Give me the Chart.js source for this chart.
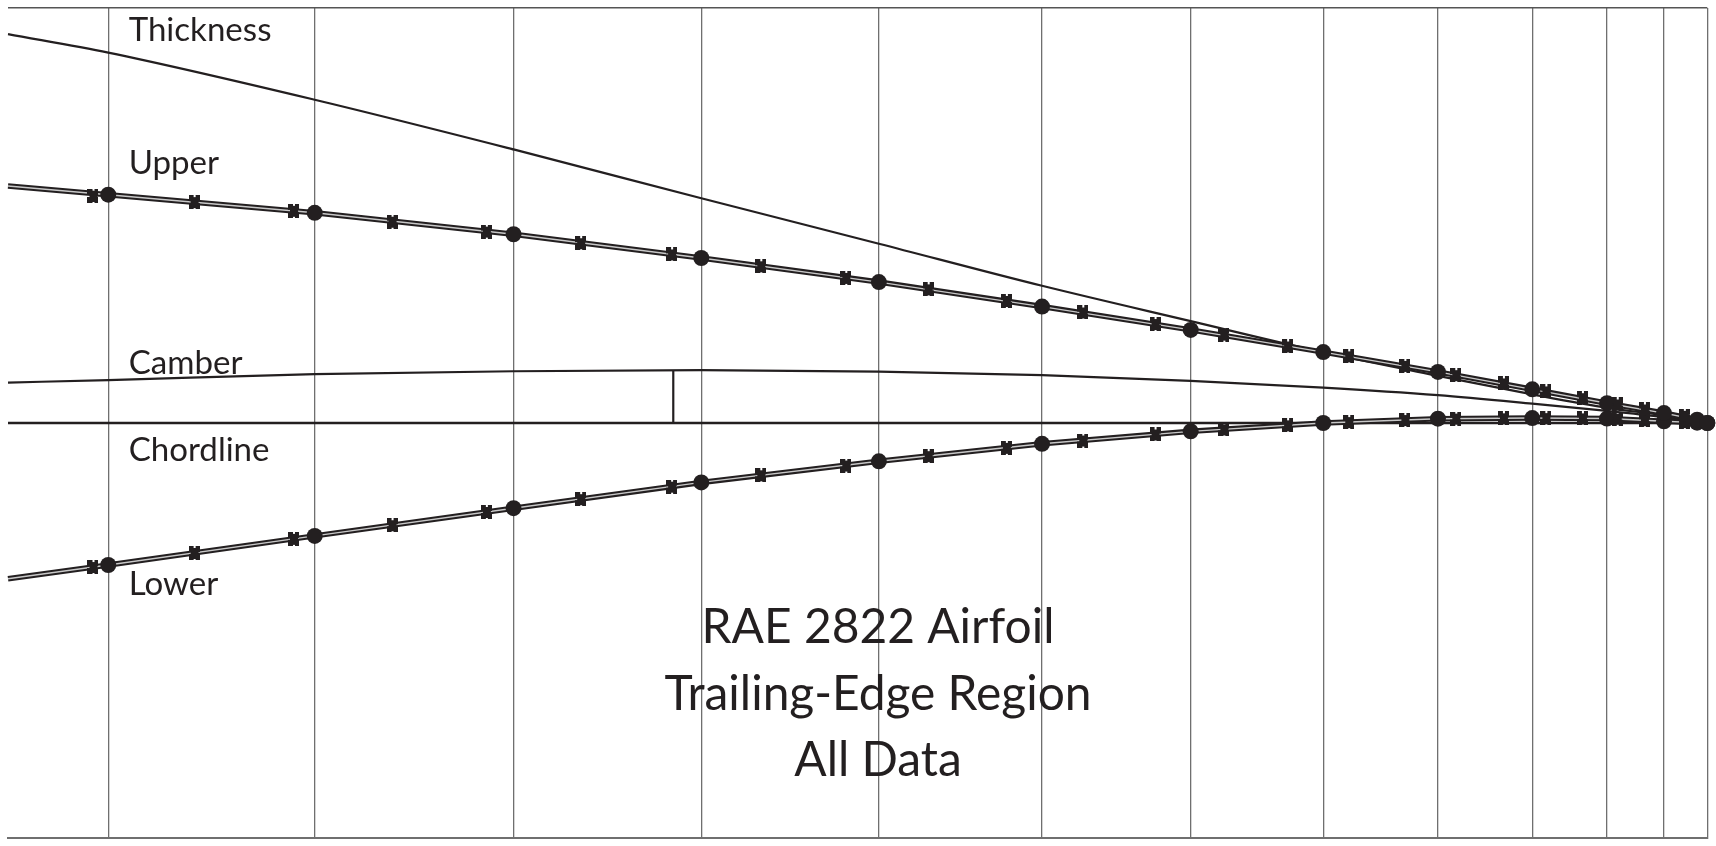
<!DOCTYPE html>
<html>
<head>
<meta charset="utf-8">
<title>RAE 2822 Airfoil - Trailing-Edge Region</title>
<script src="https://cdn.jsdelivr.net/npm/chart.js@4.4.1/dist/chart.umd.min.js"></script>
<style>
  html, body { margin: 0; padding: 0; background: #fff; overflow: hidden; }
  #wrap { width: 1716px; height: 846px; position: relative; }
</style>
</head>
<body>
<div id="wrap"><canvas id="airfoilChart"></canvas></div>
<script>
// x and y both in percent chord (trailing edge at x = 100)
const gridX = [81.18, 83.61, 85.95, 88.16, 90.25, 92.17, 93.92, 95.48, 96.83, 97.94, 98.82, 99.49, 100];

// surface values at the stations marked with filled dots
const dotX = [81.18, 83.61, 85.95, 88.16, 90.25, 92.17, 93.92, 95.48, 96.83, 97.94, 98.82, 99.49, 99.88, 100];
const upperDots = [2.712, 2.497, 2.242, 1.960, 1.674, 1.383, 1.106, 0.842, 0.607, 0.400, 0.235, 0.118, 0.039, 0];
const lowerDots = [-1.687, -1.341, -1.012, -0.706, -0.455, -0.247, -0.099, 0, 0.051, 0.059, 0.053, 0.020, 0.004, 0];
// where the surface lines leave the left edge
const edgeX = 80;
const upperEdge = 2.815;
const lowerEdge = -1.851;

// the second data set (cross markers)
const crossX = [81.00, 82.19, 83.36, 84.52, 85.63, 86.74, 87.81, 88.86, 89.86, 90.83, 91.75, 92.65,
  93.50, 94.31, 95.06, 95.78, 96.44, 97.04, 97.60, 98.10, 98.53, 98.94, 99.26, 99.73];
const upperCross = [2.697, 2.624, 2.521, 2.391, 2.274, 2.136, 2.003, 1.862, 1.724, 1.588, 1.450, 1.313,
  1.176, 1.050, 0.909, 0.792, 0.678, 0.568, 0.470, 0.375, 0.295, 0.220, 0.161, 0.086];
const lowerCross = [-1.711, -1.544, -1.376, -1.214, -1.057, -0.905, -0.756, -0.621, -0.505, -0.394, -0.295, -0.208,
  -0.136, -0.076, -0.028, 0.011, 0.035, 0.052, 0.056, 0.058, 0.055, 0.051, 0.033, 0.011];

// thickness and camber distributions
const distX = [80, 81.18, 83.61, 85.95, 88.16, 90.25, 92.17, 93.92, 95.48, 96.83, 97.94, 98.82, 99.49, 100];
const thickness = [4.62, 4.40, 3.84, 3.25, 2.67, 2.13, 1.63, 1.21, 0.84, 0.56, 0.34, 0.18, 0.09, 0];
const camber = [0.48, 0.51, 0.58, 0.615, 0.627, 0.61, 0.568, 0.50, 0.42, 0.33, 0.23, 0.144, 0.07, 0];

// chordline and max camber position
const chordX = [80, 100];
const maxCamberX = 87.83;
const maxCamber = 0.625;

const titleLines = ["RAE 2822 Airfoil", "Trailing-Edge Region", "All Data"];

const ink = "#231f20";

const pts = (xs, ys) => xs.map((v, i) => ({ x: v, y: ys[i] }));

// cross marker, a bold "#" like blob
const crossMark = document.createElement("canvas");
crossMark.width = 11;
crossMark.height = 14;
(function () {
  const c = crossMark.getContext("2d");
  c.fillStyle = ink;
  c.fillRect(0, 0, 11, 14);
  c.clearRect(4.5, 0, 2, 1.5);
  c.clearRect(4.5, 12.5, 2, 1.5);
  c.clearRect(0, 6, 1.5, 2);
  c.clearRect(9.5, 6, 1.5, 2);
})();

const plainLine = (data, width) => ({
  data: data,
  borderColor: ink,
  borderWidth: width,
  pointRadius: 0,
  fill: false,
  tension: 0,
  clip: false,
  order: 9,
});

const surfaceLine = (data, outer) => ({
  data: data,
  borderColor: outer ? ink : "#c8c8c8",
  borderWidth: outer ? 5.5 : 1.4,
  pointRadius: 0,
  fill: false,
  tension: 0,
  clip: false,
  order: outer ? 6 : 5,
});

const upperLine = [{ x: edgeX, y: upperEdge }].concat(pts(dotX, upperDots));
const lowerLine = [{ x: edgeX, y: lowerEdge }].concat(pts(dotX, lowerDots));

const dotSet = (label, data) => ({
  label: label,
  data: data,
  showLine: false,
  pointStyle: "circle",
  pointRadius: 8,
  pointBackgroundColor: ink,
  pointBorderWidth: 0,
  clip: false,
  order: 3,
});

const crossSet = (label, data) => ({
  label: label,
  data: data,
  showLine: false,
  pointStyle: crossMark,
  clip: false,
  order: 2,
});

const datasets = [
  Object.assign(plainLine(pts(distX, thickness), 2.2), { label: "Thickness", cubicInterpolationMode: "monotone" }),
  Object.assign(plainLine(pts(distX, camber), 2.2), { label: "Camber", cubicInterpolationMode: "monotone" }),
  Object.assign(plainLine(pts(chordX, [0, 0]), 2.4), { label: "Chordline" }),
  Object.assign(plainLine([{ x: maxCamberX, y: 0 }, { x: maxCamberX, y: maxCamber }], 2.2), { label: "Max camber" }),
  Object.assign(surfaceLine(upperLine, true), { label: "Upper" }),
  Object.assign(surfaceLine(upperLine, false), { label: "Upper inner" }),
  Object.assign(surfaceLine(lowerLine, true), { label: "Lower" }),
  Object.assign(surfaceLine(lowerLine, false), { label: "Lower inner" }),
  dotSet("Upper dots", pts(dotX, upperDots)),
  dotSet("Lower dots", pts(dotX, lowerDots)),
  crossSet("Upper crosses", pts(crossX, upperCross)),
  crossSet("Lower crosses", pts(crossX, lowerCross)),
];

// text placed in data coordinates
const curveLabels = [
  { text: "Thickness", x: 81.42, y: 4.54 },
  { text: "Upper", x: 81.42, y: 2.959 },
  { text: "Camber", x: 81.42, y: 0.588 },
  { text: "Chordline", x: 81.42, y: -0.452 },
  { text: "Lower", x: 81.42, y: -2.04 },
];
const titleX = 90.24;
const titleY = [-2.613, -3.411, -4.196];

const fitFont = (ctx, texts, width, family) => {
  ctx.font = "100px " + family;
  let w = 0;
  texts.forEach((t) => { w += ctx.measureText(t).width; });
  return (100 * width / w).toFixed(1) + "px " + family;
};

const textPlugin = {
  id: "airfoilText",
  afterDatasetsDraw(chart) {
    const { ctx, scales: { x, y } } = chart;
    ctx.save();
    ctx.fillStyle = ink;
    ctx.textBaseline = "alphabetic";
    ctx.textAlign = "left";
    ctx.font = fitFont(ctx, ["Thickness", "Chordline"], 141 + 143, "Lato");
    curveLabels.forEach((l) => {
      ctx.fillText(l.text, x.getPixelForValue(l.x), y.getPixelForValue(l.y));
    });
    ctx.font = fitFont(ctx, [titleLines[1], titleLines[2]], 436 + 159, "Lato");
    ctx.textAlign = "center";
    titleLines.forEach((t, i) => {
      ctx.fillText(t, x.getPixelForValue(titleX), y.getPixelForValue(titleY[i]));
    });
    ctx.restore();
  },
};

new Chart("airfoilChart", {
  type: "line",
  data: { datasets: datasets },
  plugins: [textPlugin],
  options: {
    animation: false,
    responsive: true,
    maintainAspectRatio: false,
    events: [],
    layout: { padding: { left: 7, right: 8.7, top: 4.4, bottom: 3.3 } },
    plugins: {
      legend: { display: false },
      tooltip: { enabled: false },
      title: { display: false },
    },
    scales: {
      x: {
        type: "linear",
        min: 80,
        max: 100,
        ticks: { display: false },
        grid: { color: "#6f6f6f", lineWidth: 1.3, drawTicks: false },
        border: { display: true, color: "#6f6f6f", width: 2 },
        afterBuildTicks: (axis) => {
          axis.ticks = gridX.map((v) => ({ value: v }));
        },
      },
      y: {
        type: "linear",
        min: -4.93,
        max: 4.93,
        ticks: { display: false },
        grid: { color: "#555555", lineWidth: 1.6, drawTicks: false },
        border: { display: false },
        afterBuildTicks: (axis) => {
          axis.ticks = [{ value: 4.93 }];
        },
      },
    },
  },
});
</script>
</body>
</html>
